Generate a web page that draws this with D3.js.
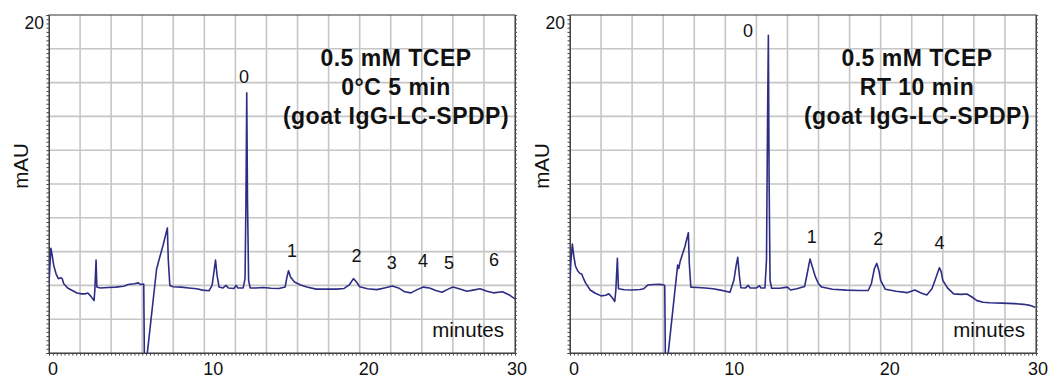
<!DOCTYPE html>
<html>
<head>
<meta charset="utf-8">
<script src="https://cdn.jsdelivr.net/npm/d3@7"></script>
<style>
  body { margin: 0; background: #fff; }
  text { font-family: "Liberation Sans", Arial, sans-serif; fill: #111; }
  .note { font-weight: bold; font-size: 23px; letter-spacing: 0.5px; }
</style>
</head>
<body>
<svg id="chart" width="1051" height="378"></svg>
<script>
// time (min), absorbance (mAU)
const trace_cold = [
  [0.0, 4.2], [0.05, 5.0], [0.12, 6.2], [0.2, 5.8], [0.3, 5.2], [0.45, 4.7], [0.6, 4.4],
  [0.75, 4.45], [0.85, 4.4], [0.95, 4.1], [1.2, 3.85], [1.5, 3.7], [1.8, 3.55], [2.1, 3.5],
  [2.35, 3.5], [2.5, 3.55], [2.7, 3.35], [2.9, 3.1], [2.95, 3.7], [3.03, 5.5], [3.08, 3.9],
  [3.3, 3.85], [3.8, 3.88], [4.3, 3.9], [4.8, 3.95], [5.1, 4.05], [5.5, 4.1], [5.75, 4.15],
  [5.9, 4.05], [6.1, 4.08], [6.15, -1.5], [6.93, 5.0], [6.98, 5.15], [7.05, 5.4], [7.35, 6.4],
  [7.62, 7.4], [7.68, 5.5], [7.78, 4.0], [8.0, 3.92], [8.5, 3.9], [9.0, 3.85], [9.5, 3.8],
  [9.9, 3.72], [10.3, 3.68], [10.5, 4.0], [10.62, 4.8], [10.72, 5.5], [10.82, 4.6], [10.95, 3.9],
  [11.2, 3.85], [11.4, 4.0], [11.55, 3.85], [11.9, 3.82], [12.05, 4.0], [12.15, 3.85], [12.5, 3.85],
  [12.62, 4.4], [12.68, 9.0], [12.73, 15.4], [12.78, 9.0], [12.85, 4.3], [12.95, 3.85], [13.3, 3.85],
  [13.8, 3.88], [14.3, 3.83], [14.8, 3.82], [15.2, 3.9], [15.32, 4.5], [15.42, 4.87], [15.55, 4.5],
  [15.8, 4.2], [16.2, 4.02], [16.6, 3.9], [17.2, 3.78], [17.8, 3.78], [18.5, 3.78], [19.0, 3.82],
  [19.35, 4.05], [19.6, 4.4], [19.8, 4.2], [20.0, 3.92], [20.5, 3.8], [21.1, 3.75], [21.6, 3.85],
  [22.1, 3.96], [22.5, 3.85], [22.9, 3.62], [23.3, 3.56], [23.7, 3.75], [24.1, 3.9], [24.5, 3.85],
  [24.9, 3.7], [25.3, 3.6], [25.7, 3.78], [26.0, 3.9], [26.4, 3.8], [26.9, 3.65], [27.3, 3.72],
  [27.75, 3.8], [28.2, 3.65], [28.6, 3.56], [29.2, 3.62], [29.6, 3.45], [30.0, 3.2]
]
const trace_rt = [
  [0.0, 4.3], [0.05, 5.3], [0.15, 6.45], [0.25, 5.7], [0.35, 5.15], [0.5, 4.85], [0.65, 4.7],
  [0.75, 4.68], [0.85, 4.45], [1.0, 4.15], [1.3, 3.73], [1.6, 3.55], [2.0, 3.38], [2.3, 3.42],
  [2.5, 3.5], [2.7, 3.3], [2.88, 3.05], [2.95, 3.7], [3.05, 5.6], [3.12, 3.8], [3.5, 3.74],
  [4.0, 3.73], [4.5, 3.76], [4.75, 3.8], [5.0, 4.02], [5.4, 4.05], [5.8, 4.06], [6.05, 4.02],
  [6.1, 3.96], [6.15, -1.5], [6.93, 5.2], [7.0, 5.0], [7.1, 5.45], [7.4, 6.3], [7.62, 7.12],
  [7.68, 5.3], [7.78, 3.9], [8.2, 3.88], [8.7, 3.85], [9.2, 3.8], [9.7, 3.72], [10.3, 3.6],
  [10.55, 4.3], [10.7, 5.2], [10.8, 5.66], [10.9, 4.6], [11.0, 3.86], [11.3, 3.85], [11.47, 4.0],
  [11.6, 3.85], [12.0, 3.85], [12.2, 3.98], [12.3, 3.85], [12.55, 3.85], [12.65, 5.5], [12.72, 14.0],
  [12.77, 18.8], [12.82, 10.0], [12.88, 4.3], [12.98, 3.83], [13.5, 3.83], [14.0, 3.9], [14.2, 3.73],
  [14.6, 3.8], [15.1, 3.93], [15.25, 4.6], [15.45, 5.56], [15.6, 5.1], [15.8, 4.5], [16.0, 4.1],
  [16.2, 3.9], [16.9, 3.77], [17.8, 3.72], [18.6, 3.7], [19.2, 3.7], [19.4, 4.1], [19.6, 5.0],
  [19.75, 5.3], [19.88, 4.9], [20.0, 4.3], [20.3, 3.77], [21.0, 3.65], [21.7, 3.57], [22.2, 3.73],
  [22.6, 3.55], [22.97, 3.43], [23.3, 3.8], [23.5, 4.3], [23.78, 5.05], [23.9, 4.8], [24.0, 4.3],
  [24.3, 3.85], [24.7, 3.5], [25.2, 3.47], [25.55, 3.49], [25.9, 3.3], [26.2, 3.1], [26.6, 3.0],
  [27.0, 2.97], [27.8, 2.95], [28.6, 2.92], [29.2, 2.88], [29.6, 2.82], [29.95, 2.7]
]

// peak numbers: [time, mAU of label baseline, text]
const peaks_cold = [[12.55, 16.0, "0"], [15.65, 5.68, "1"], [19.8, 5.4, "2"], [22.07, 4.95, "3"],
                    [24.08, 5.07, "4"], [25.75, 4.95, "5"], [28.65, 5.15, "6"]]
const peaks_rt = [[11.46, 18.7, "0"], [15.56, 6.49, "1"], [19.85, 6.39, "2"], [23.79, 6.14, "4"]]

const notes_cold = ["0.5 mM TCEP", "0°C 5 min", "(goat IgG-LC-SPDP)"]
const notes_rt = ["0.5 mM TCEP", "RT 10 min", "(goat IgG-LC-SPDP)"]

const xTicks = [0, 10, 20, 30]
const xDomain = [0, 30]
const yDomain = [0, 20]
const yLabel = "mAU"
const xLabel = "minutes"

const svg = d3.select("#chart")

function chromatogram(trace, peaks, notes, x0, id)
{
    const top = 15, bottom = 353, width = 466
    const xScale = d3.scaleLinear().domain(xDomain).range([x0, x0 + width])
    const yScale = d3.scaleLinear().domain(yDomain).range([bottom, top])
    const g = svg.append("g")

    g.append("clipPath").attr("id", id)
        .append("rect")
        .attr("x", x0).attr("y", top).attr("width", width).attr("height", bottom - top)

    // grid every 2 min / 2 mAU
    g.append("g").selectAll("line")
        .data(d3.range(2, 30, 2))
        .join("line")
        .attr("x1", d => xScale(d)).attr("x2", d => xScale(d))
        .attr("y1", top).attr("y2", bottom)
        .attr("stroke", "#c6c6c6").attr("stroke-width", 1.6)
    g.append("g").selectAll("line")
        .data(d3.range(2, 20, 2))
        .join("line")
        .attr("y1", d => yScale(d)).attr("y2", d => yScale(d))
        .attr("x1", x0).attr("x2", x0 + width)
        .attr("stroke", "#c6c6c6").attr("stroke-width", 1.6)

    // frame
    g.append("rect")
        .attr("x", x0).attr("y", top).attr("width", width).attr("height", bottom - top)
        .attr("fill", "none").attr("stroke", "#555").attr("stroke-width", 1.2)

    // little ticks on left, right and bottom edges
    const x_axis = d3.axisBottom(xScale).tickValues(d3.range(0, 30.01, 0.25)).tickSize(2.5).tickFormat("")
    g.append("g").attr("transform", `translate(0,${bottom})`).call(x_axis)
        .call(a => a.select(".domain").attr("stroke", "#444"))
        .selectAll("line").attr("stroke", "#444")
    const y_left = d3.axisLeft(yScale).tickValues(d3.range(0, 20.01, 0.25)).tickSize(2.5).tickFormat("")
    g.append("g").attr("transform", `translate(${x0},0)`).call(y_left)
        .call(a => a.select(".domain").attr("stroke", "#444"))
        .selectAll("line").attr("stroke", "#444")
    const y_right = d3.axisRight(yScale).tickValues(d3.range(0, 20.01, 0.25)).tickSize(2).tickFormat("")
    g.append("g").attr("transform", `translate(${x0 + width},0)`).call(y_right)
        .call(a => a.select(".domain").attr("stroke", "#444"))
        .selectAll("line").attr("stroke", "#555")

    // tick labels
    g.append("g").selectAll("text")
        .data(xTicks)
        .join("text")
        .attr("x", (d, i) => xScale(d) + (i === xTicks.length - 1 ? 2 : -1))
        .attr("y", 375)
        .attr("text-anchor", (d, i) => i === xTicks.length - 1 ? "middle" : "start")
        .attr("font-size", 18)
        .text(d => d)
    g.append("text")
        .attr("x", x0 - 5).attr("y", top + 14)
        .attr("text-anchor", "end").attr("font-size", 17.5)
        .text(yDomain[1])

    // axis titles
    g.append("text")
        .attr("transform", `translate(${x0 - 21.5},${166}) rotate(270)`)
        .attr("text-anchor", "middle").attr("font-size", 20.5)
        .text(yLabel)
    g.append("text")
        .attr("x", x0 + 455).attr("y", 337)
        .attr("text-anchor", "end").attr("font-size", 20.5)
        .text(xLabel)

    // trace
    const line = d3.line().x(d => xScale(d[0])).y(d => yScale(d[1]))
    g.append("path")
        .datum(trace)
        .attr("clip-path", `url(#${id})`)
        .attr("d", line)
        .attr("fill", "none")
        .attr("stroke", "#2d2d85")
        .attr("stroke-width", 1.6)
        .attr("stroke-linejoin", "round")

    // peak numbers
    g.append("g").selectAll("text")
        .data(peaks)
        .join("text")
        .attr("x", d => xScale(d[0])).attr("y", d => yScale(d[1]))
        .attr("text-anchor", "middle").attr("font-size", 18)
        .text(d => d[2])

    // condition note
    g.append("g").selectAll("text")
        .data(notes)
        .join("text")
        .attr("class", "note")
        .attr("x", x0 + 347).attr("y", (d, i) => 66 + i * 29)
        .attr("text-anchor", "middle")
        .text(d => d)
}

chromatogram(trace_cold, peaks_cold, notes_cold, 49, "clipL")
chromatogram(trace_rt, peaks_rt, notes_rt, 570, "clipR")
</script>
</body>
</html>
